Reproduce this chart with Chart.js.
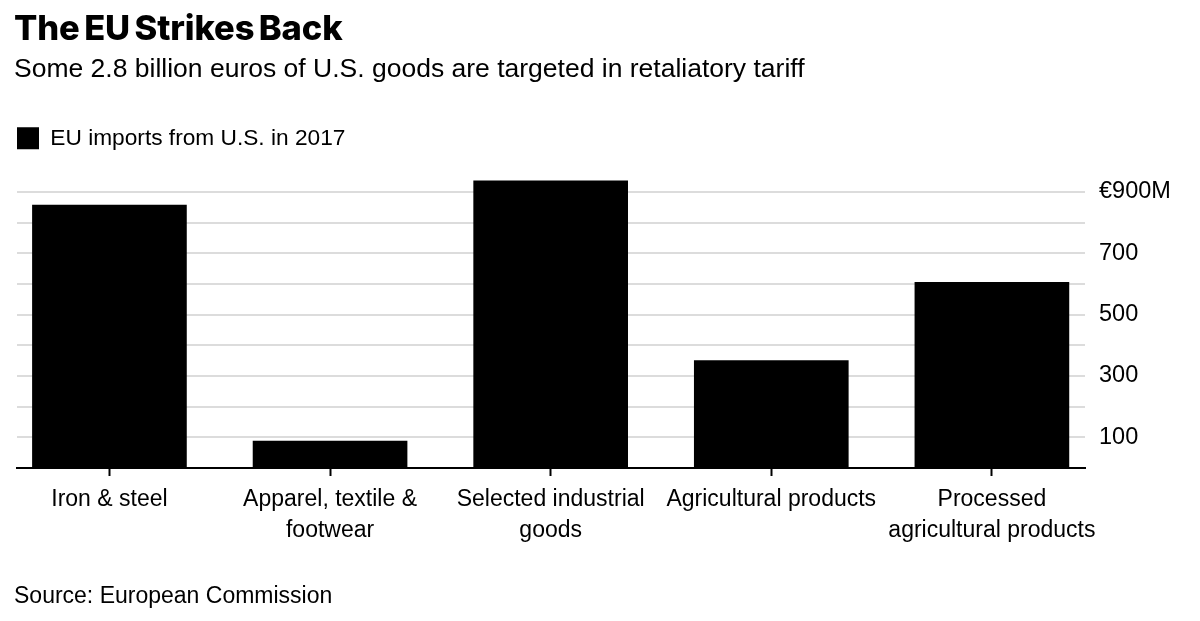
<!DOCTYPE html>
<html>
<head>
<meta charset="utf-8">
<script src="https://cdn.jsdelivr.net/npm/chart.js@4"></script>
<style>
  html, body { margin: 0; background: #fff; overflow: hidden; }
  #wrap { position: relative; width: 1200px; height: 621px; font-family: "Liberation Sans", sans-serif; color: #000; }
  #wrap div { position: absolute; left: 14px; white-space: nowrap; }
  #title { top: 7px; font-family: Inter, sans-serif; font-size: 34.5px; font-weight: 800; letter-spacing: -0.1px; word-spacing: -3px; }
  #subtitle { top: 53px; font-size: 26.5px; }
  #source { top: 582px; font-size: 23px; }
  canvas { position: absolute; left: 0; top: 0; }
</style>
</head>
<body>
<div id="wrap">
  <canvas id="myChart" width="1200" height="621"></canvas>
  <div id="title">The EU Strikes Back</div>
  <div id="subtitle">Some 2.8 billion euros of U.S. goods are targeted in retaliatory tariff</div>
  <div id="source">Source: European Commission</div>
</div>
<script>
const categories = [
  ["Iron & steel"],
  ["Apparel, textile &", "footwear"],
  ["Selected industrial", "goods"],
  ["Agricultural products"],
  ["Processed", "agricultural products"]
];
const imports = [857, 88, 936, 350, 605];
const seriesName = "EU imports from U.S. in 2017";
const yTicks = [100, 200, 300, 400, 500, 600, 700, 800, 900];
const yLabels = { 100: "100", 300: "300", 500: "500", 700: "700", 900: "€900M" };

const FONT = "'Liberation Sans', sans-serif";

window.addEventListener("load", () => {
  let ctx = document.getElementById("myChart").getContext("2d");
  new Chart(ctx, {
    type: "bar",
    data: {
      datasets: [{
        label: seriesName,
        data: imports.map((v, i) => ({ x: i, y: v })),
        backgroundColor: "#000",
        barThickness: 154
      }]
    },
    options: {
      responsive: false,
      animation: false,
      devicePixelRatio: 1,
      layout: { padding: { left: 17, right: 0, top: 127, bottom: 0 } },
      plugins: {
        tooltip: { enabled: false },
        legend: {
          position: "top",
          align: "start",
          labels: {
            boxWidth: 22,
            boxHeight: 22,
            padding: 0,
            color: "#000",
            font: { family: FONT, size: 22.7 }
          }
        }
      },
      scales: {
        x: {
          // the bars overrun the gridlines, so the bands are set by hand
          type: "linear",
          offset: false,
          min: -0.419,
          max: 4.422,
          afterFit: (axis) => { axis.height = 153; },
          grid: { offset: false, drawOnChartArea: false, tickLength: 8, tickColor: "#000", tickWidth: 2 },
          border: { color: "#000", width: 2 },
          ticks: {
            stepSize: 1,
            includeBounds: false,
            autoSkip: false,
            maxRotation: 0,
            padding: 8,
            color: "#000",
            font: { family: FONT, size: 23, lineHeight: 1.35 },
            callback: (v) => categories[v]
          }
        },
        y: {
          position: "right",
          min: 0,
          max: 1005,
          afterFit: (axis) => { axis.width = 115; },
          afterBuildTicks: (axis) => { axis.ticks = yTicks.map(v => ({ value: v })); },
          grid: { color: "#dcdcdc", lineWidth: 2, drawTicks: false },
          border: { display: false },
          ticks: {
            autoSkip: false,
            padding: 14,
            color: "#000",
            font: { family: FONT, size: 23.5 },
            callback: (v) => yLabels[v] || ""
          }
        }
      }
    }
  });
});
</script>
</body>
</html>
